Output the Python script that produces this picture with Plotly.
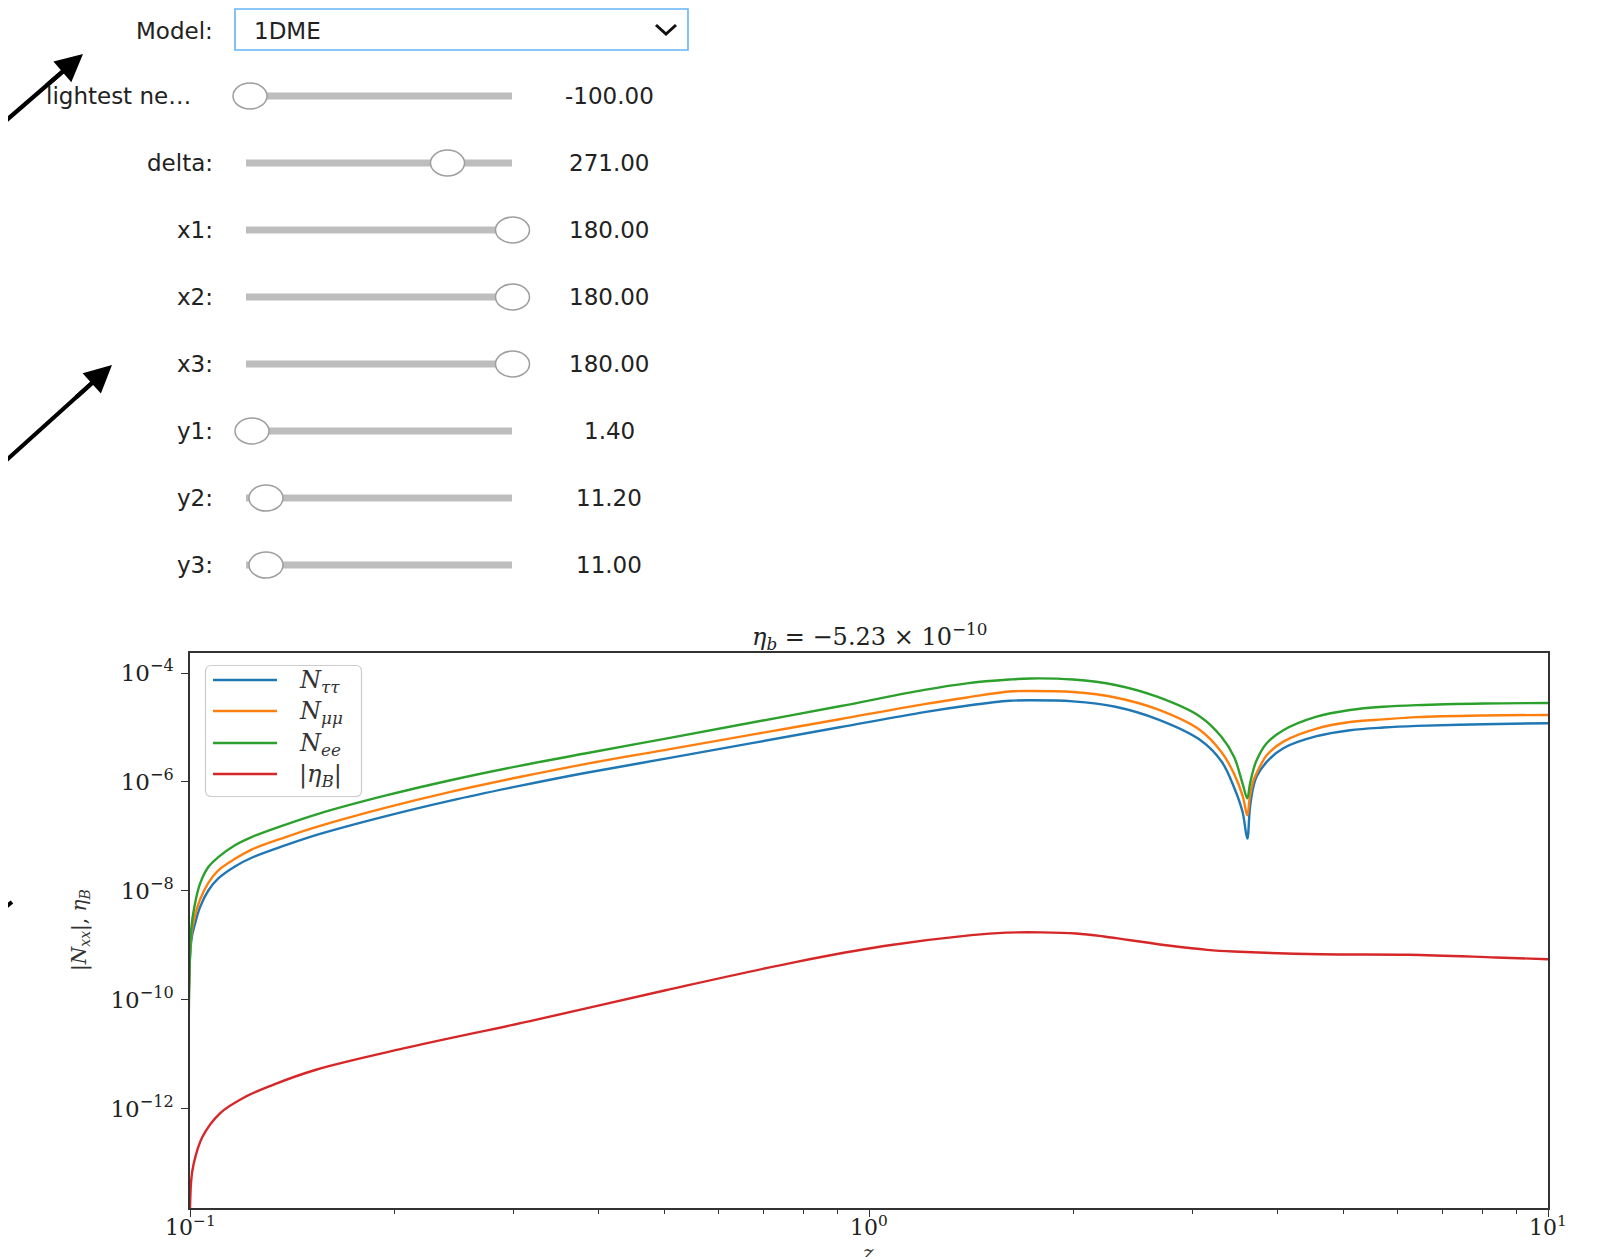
import math
import plotly.graph_objects as go

W, H = 1614, 1257

# ---------------- data ----------------
z_N = [0.1, 0.10035, 0.10172, 0.10344, 0.10641, 0.11007, 0.11646, 0.12325, 0.13799, 0.15453,
       0.19376, 0.24285, 0.30445, 0.38166, 0.50910, 0.67887, 0.90509, 1.2067, 1.3934, 1.6091,
       1.7291, 1.9966, 2.3057, 2.6627, 3.0746, 3.3037, 3.4492, 3.5497, 3.6067, 3.6401,
       3.6813, 3.7231, 3.8520, 4.0756, 4.5625, 5.1082, 5.7214, 6.4062, 8.0353, 10.0]

N_tautau = [1e-20, 1.12e-9, 2.51e-9, 5.01e-9, 1.02e-8, 1.70e-8, 2.82e-8, 4.07e-8, 6.84e-8, 1.09e-7,
            2.34e-7, 4.60e-7, 8.38e-7, 1.46e-6, 2.77e-6, 5.28e-6, 1.01e-5, 1.92e-5, 2.51e-5, 3.09e-5,
            3.16e-5, 3.02e-5, 2.40e-5, 1.41e-5, 5.89e-6, 2.40e-6, 7.94e-7, 2.82e-7, 9.12e-8, 3.47e-7,
            8.13e-7, 1.26e-6, 2.34e-6, 4.17e-6, 6.92e-6, 8.91e-6, 1.00e-5, 1.07e-5, 1.15e-5, 1.20e-5]

N_mumu = [1e-20, 1.41e-9, 3.55e-9, 6.92e-9, 1.41e-8, 2.40e-8, 3.89e-8, 5.75e-8, 9.66e-8, 1.53e-7,
          3.34e-7, 6.65e-7, 1.22e-6, 2.13e-6, 4.01e-6, 7.55e-6, 1.42e-5, 2.69e-5, 3.55e-5, 4.57e-5,
          4.68e-5, 4.47e-5, 3.55e-5, 2.14e-5, 8.91e-6, 3.55e-6, 1.41e-6, 5.62e-7, 2.45e-7, 5.62e-7,
          1.05e-6, 1.45e-6, 3.09e-6, 5.50e-6, 9.55e-6, 1.26e-5, 1.41e-5, 1.55e-5, 1.66e-5, 1.70e-5]

N_ee = [1e-20, 1.78e-9, 5.89e-9, 1.35e-8, 2.75e-8, 4.17e-8, 6.92e-8, 9.77e-8, 1.64e-7, 2.61e-7,
        5.61e-7, 1.09e-6, 1.96e-6, 3.33e-6, 6.46e-6, 1.26e-5, 2.45e-5, 4.90e-5, 6.46e-5, 7.59e-5,
        7.94e-5, 7.59e-5, 6.03e-5, 3.63e-5, 1.58e-5, 6.76e-6, 2.88e-6, 9.33e-7, 5.01e-7, 9.33e-7,
        1.66e-6, 2.51e-6, 5.13e-6, 8.91e-6, 1.58e-5, 2.09e-5, 2.40e-5, 2.57e-5, 2.75e-5, 2.82e-5]

z_eta = [0.1, 0.10035, 0.10127, 0.10433, 0.11071, 0.12097, 0.13224, 0.15333, 0.20620, 0.32157,
         0.50177, 0.78236, 1.0522, 1.4155, 1.5930, 1.7940, 2.0200, 2.2066, 2.4130, 2.7969,
         3.1500, 3.4420, 4.6281, 6.2274, 8.3753, 10.0]

eta_B = [1e-20, 4.47e-14, 1.00e-13, 3.09e-13, 8.32e-13, 1.70e-12, 2.75e-12, 5.25e-12, 1.29e-11, 4.27e-11,
         1.51e-10, 5.01e-10, 9.77e-10, 1.55e-9, 1.72e-9, 1.74e-9, 1.66e-9, 1.48e-9, 1.26e-9, 9.77e-10,
         8.32e-10, 7.76e-10, 6.92e-10, 6.76e-10, 6.03e-10, 5.60e-10]

series_names = ["<i>N</i><sub><i>ττ</i></sub>", "<i>N</i><sub><i>μμ</i></sub>",
                "<i>N</i><sub><i>ee</i></sub>", "|<i>η</i><sub><i>B</i></sub>|"]
series_colors = ["#1f77b4", "#ff7f0e", "#2ca02c", "#d62728"]

x_tickvals = [0.1, 1, 10]
x_ticktext = ["10<sup>−1</sup>", "10<sup>0</sup>", "10<sup>1</sup>"]
x_minorvals = [0.2, 0.3, 0.4, 0.5, 0.6, 0.7, 0.8, 0.9, 2, 3, 4, 5, 6, 7, 8, 9]
y_tickvals = [1e-12, 1e-10, 1e-8, 1e-6, 1e-4]
y_ticktext = ["10<sup>−12</sup>", "10<sup>−10</sup>", "10<sup>−8</sup>", "10<sup>−6</sup>", "10<sup>−4</sup>"]

title_text = "<i>η</i><sub><i>b</i></sub> = −5.23 × 10<sup>−10</sup>"
y_title = "|<i>N</i><sub><i>xx</i></sub>|, <i>η</i><sub><i>B</i></sub>"
x_title = "<i>z</i>"

model_label = "Model:"
model_value = "1DME"
slider_labels = ["lightest ne…", "delta:", "x1:", "x2:", "x3:", "y1:", "y2:", "y3:"]
slider_values = ["-100.00", "271.00", "180.00", "180.00", "180.00", "1.40", "11.20", "11.00"]

# ---------------- layout helpers (page pixel -> paper) ----------------
OFF = 8                      # page body margin in front of the figure
WF, HF = W - OFF, H - OFF    # figure size so that it fits the window exactly


def X(p):
    return (p - OFF) / WF


def Y(p):
    return 1 - (p - OFF) / HF


PLOT_L, PLOT_R, PLOT_T, PLOT_B = 190, 1548, 653, 1208
Y_RANGE = [-13.817, -3.633]

SANS = "DejaVu Sans"
SERIF = "DejaVu Serif"
TXT = "#222222"

fig = go.Figure()
for zs, vs, col in [(z_N, N_tautau, series_colors[0]), (z_N, N_mumu, series_colors[1]),
                    (z_N, N_ee, series_colors[2]), (z_eta, eta_B, series_colors[3])]:
    fig.add_trace(go.Scatter(x=zs, y=vs, mode="lines",
                             line=dict(color=col, width=2.4, shape="spline", smoothing=1.0),
                             showlegend=False, hoverinfo="skip"))

axis_common = dict(showgrid=False, zeroline=False, showline=True, mirror=True,
                   linecolor="#333333", linewidth=1.5, ticks="outside", ticklen=7,
                   tickwidth=1.3, tickcolor="#333333", automargin=False)

fig.update_layout(
    width=WF, height=HF,
    margin=dict(l=0, r=0, t=0, b=0, pad=0, autoexpand=False),
    paper_bgcolor="white", plot_bgcolor="white", showlegend=False,
    template="none",
    xaxis=dict(type="log", domain=[X(PLOT_L), X(PLOT_R)], range=[-1, 1],
               tickmode="array", tickvals=x_tickvals, showticklabels=False,
               minor=dict(tickmode="array", tickvals=x_minorvals, ticks="outside",
                          ticklen=4, tickwidth=1, tickcolor="#333333", showgrid=False),
               **axis_common),
    yaxis=dict(type="log", domain=[Y(PLOT_B), Y(PLOT_T)], range=Y_RANGE,
               tickmode="array", tickvals=y_tickvals, ticktext=y_ticktext,
               ticklabelstandoff=3, tickfont=dict(family=SERIF, size=23, color=TXT),
               **axis_common),
)

shapes = []
annotations = []

# ---- x tick labels placed through the x axis scale ----
for tv, tt in zip(x_tickvals, x_ticktext):
    annotations.append(dict(x=math.log10(tv), y=Y(1226), xref="x", yref="paper", text=tt,
                            showarrow=False, xanchor="center", yanchor="middle",
                            font=dict(family=SERIF, size=22, color=TXT)))

# ---- chart texts ----
annotations.append(dict(x=X(869), y=Y(636), xref="paper", yref="paper", text=title_text,
                        showarrow=False, xanchor="center", yanchor="middle",
                        font=dict(family=SERIF, size=24, color=TXT)))
annotations.append(dict(x=X(80), y=Y(930), xref="paper", yref="paper", text=y_title,
                        showarrow=False, textangle=-90, xanchor="center", yanchor="middle",
                        font=dict(family=SERIF, size=20, color="#333333")))
annotations.append(dict(x=X(868), y=Y(1253), xref="paper", yref="paper", text=x_title,
                        showarrow=False, xanchor="center", yanchor="middle",
                        font=dict(family=SERIF, size=20, color="#333333")))

# ---- legend (manual) ----
lx0, lx1, ly0, ly1, r = 205.5, 361.5, 665.5, 796.5, 6
path = (f"M {X(lx0 + r)},{Y(ly0)} L {X(lx1 - r)},{Y(ly0)} Q {X(lx1)},{Y(ly0)} {X(lx1)},{Y(ly0 + r)} "
        f"L {X(lx1)},{Y(ly1 - r)} Q {X(lx1)},{Y(ly1)} {X(lx1 - r)},{Y(ly1)} "
        f"L {X(lx0 + r)},{Y(ly1)} Q {X(lx0)},{Y(ly1)} {X(lx0)},{Y(ly1 - r)} "
        f"L {X(lx0)},{Y(ly0 + r)} Q {X(lx0)},{Y(ly0)} {X(lx0 + r)},{Y(ly0)} Z")
shapes.append(dict(type="path", path=path, xref="paper", yref="paper",
                   fillcolor="rgba(255,255,255,0.8)", line=dict(color="#cccccc", width=1.2),
                   layer="above"))
leg_rows = [680, 711, 743, 774]
for yy, name, col in zip(leg_rows, series_names, series_colors):
    shapes.append(dict(type="line", xref="paper", yref="paper", x0=X(213), x1=X(277),
                       y0=Y(yy), y1=Y(yy), line=dict(color=col, width=2.4), layer="above"))
    annotations.append(dict(x=X(297), y=Y(yy + 1), xref="paper", yref="paper", text=name,
                            showarrow=False, xanchor="left", yanchor="middle",
                            font=dict(family=SERIF, size=24, color="#333333")))

# ---- widgets ----
annotations.append(dict(x=X(215), y=Y(31), xref="paper", yref="paper", text=model_label,
                        showarrow=False, xanchor="right", yanchor="middle",
                        font=dict(family=SANS, size=23, color=TXT)))
shapes.append(dict(type="rect", xref="paper", yref="paper", x0=X(235), x1=X(688),
                   y0=Y(9), y1=Y(50), line=dict(color="#64b5f6", width=1.6),
                   fillcolor="white"))
annotations.append(dict(x=X(252), y=Y(31), xref="paper", yref="paper", text=model_value,
                        showarrow=False, xanchor="left", yanchor="middle",
                        font=dict(family=SANS, size=23, color=TXT)))
shapes.append(dict(type="path", xref="paper", yref="paper",
                   path=f"M {X(656)},{Y(25)} L {X(666)},{Y(34)} L {X(676)},{Y(25)}",
                   line=dict(color="#111111", width=3)))

row_y = [96, 163, 230, 297, 364, 431, 498, 565]
thumb_x = [250, 447.5, 512.5, 512.5, 512.5, 252, 266, 266]
TRACK_X0, TRACK_X1 = 246, 512
for i, (yy, lab, val, tx) in enumerate(zip(row_y, slider_labels, slider_values, thumb_x)):
    if i == 0:
        annotations.append(dict(x=X(44), y=Y(yy), xref="paper", yref="paper", text=lab,
                                showarrow=False, xanchor="left", yanchor="middle",
                                font=dict(family=SANS, size=23, color=TXT)))
    else:
        annotations.append(dict(x=X(215), y=Y(yy), xref="paper", yref="paper", text=lab,
                                showarrow=False, xanchor="right", yanchor="middle",
                                font=dict(family=SANS, size=23, color=TXT)))
    annotations.append(dict(x=X(609), y=Y(yy), xref="paper", yref="paper", text=val,
                            showarrow=False, xanchor="center", yanchor="middle",
                            font=dict(family=SANS, size=23, color=TXT)))
    shapes.append(dict(type="rect", xref="paper", yref="paper", x0=X(TRACK_X0), x1=X(TRACK_X1),
                       y0=Y(yy - 3.5), y1=Y(yy + 3.5), line=dict(width=0), fillcolor="#bdbdbd"))
    shapes.append(dict(type="circle", xref="paper", yref="paper", x0=X(tx - 17), x1=X(tx + 17),
                       y0=Y(yy - 13), y1=Y(yy + 13), line=dict(color="#9e9e9e", width=1.5),
                       fillcolor="white"))

# ---- black arrows: shaft as a line shape, head as a short annotation arrow ----
arrows = [((83, 54), (0.756, -0.654)), ((112, 365), (0.743, -0.670))]
for (tx_, ty_), (ux, uy) in arrows:
    shapes.append(dict(type="line", xref="paper", yref="paper",
                       x0=X(tx_ - ux * 180), y0=Y(ty_ - uy * 180),
                       x1=X(tx_ - ux * 25), y1=Y(ty_ - uy * 25),
                       line=dict(color="black", width=4.2)))
    annotations.append(dict(x=X(tx_), y=Y(ty_), xref="paper", yref="paper", text="",
                            showarrow=True, ax=-ux * 50, ay=-uy * 50, axref="pixel",
                            ayref="pixel", arrowhead=2, arrowsize=1.3, arrowwidth=4.2,
                            arrowcolor="black"))
shapes.append(dict(type="line", xref="paper", yref="paper", x0=X(-6), y0=Y(916), x1=X(12),
                   y1=Y(902), line=dict(color="black", width=4)))

fig.update_layout(shapes=shapes, annotations=annotations)
fig.write_html("out.html")
